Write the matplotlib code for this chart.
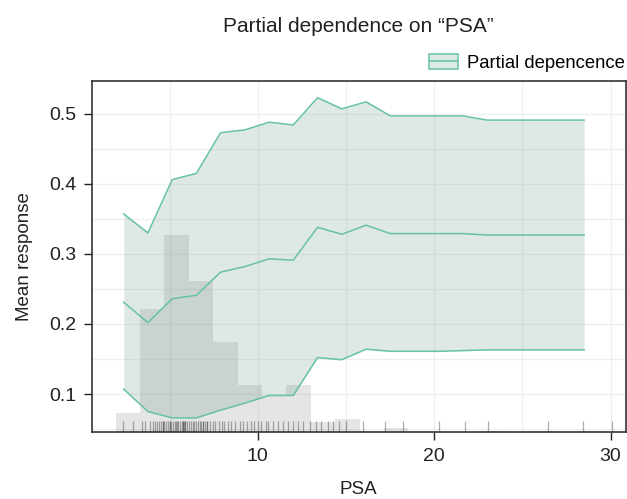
import matplotlib
matplotlib.use("Agg")
import matplotlib.pyplot as plt
from matplotlib.patches import Patch
from matplotlib.lines import Line2D

plt.rcParams['font.family'] = ['Liberation Sans', 'DejaVu Sans']

# partial dependence grid on PSA
pd_x = [2.4, 3.77, 5.15, 6.52, 7.89, 9.27, 10.64, 12.01, 13.39, 14.76,
        16.14, 17.51, 18.88, 20.26, 21.63, 23.0, 24.38, 25.75, 27.12, 28.5]
pd_upper = [0.357, 0.330, 0.406, 0.415, 0.473, 0.477, 0.488, 0.484, 0.523, 0.507,
            0.517, 0.497, 0.497, 0.497, 0.497, 0.491, 0.491, 0.491, 0.491, 0.491]
pd_mean = [0.231, 0.202, 0.236, 0.241, 0.274, 0.282, 0.293, 0.291, 0.338, 0.328,
           0.341, 0.329, 0.329, 0.329, 0.329, 0.327, 0.327, 0.327, 0.327, 0.327]
pd_lower = [0.107, 0.075, 0.066, 0.066, 0.077, 0.087, 0.098, 0.098, 0.152, 0.149,
            0.164, 0.161, 0.161, 0.161, 0.162, 0.163, 0.163, 0.163, 0.163, 0.163]

# histogram of PSA (bar tops in response units)
hist_left = [1.95, 3.33, 4.71, 6.10, 7.48, 8.86, 10.24, 11.62, 13.01, 14.39,
             15.77, 17.15, 18.53, 19.92, 21.30, 22.68, 24.06, 25.44, 26.83, 28.21]
hist_top = [0.073, 0.221, 0.327, 0.261, 0.174, 0.113, 0.097, 0.113, 0.060, 0.064,
            0.047, 0.052, 0.047, 0.0453, 0.0453, 0.047, 0.0453, 0.047, 0.0453, 0.047]
bin_w = 1.38

# rug of observed PSA values
rug = [2.37, 2.93, 3.41, 3.6, 3.88, 4.06, 4.2, 4.3, 4.4, 4.5, 4.6, 4.65, 4.7, 4.8,
       4.9, 5.0, 5.05, 5.1, 5.2, 5.3, 5.35, 5.4, 5.5, 5.58, 5.7, 5.75, 5.75, 5.8,
       5.9, 5.9, 6.0, 6.1, 6.2, 6.3, 6.4, 6.5, 6.6, 6.7, 6.8, 6.9, 6.9, 7.0, 7.1,
       7.1, 7.3, 7.45, 7.6, 7.8, 7.95, 8.1, 8.3, 8.5, 8.7, 8.98, 9.15, 9.4, 9.6,
       9.8, 10.0, 10.2, 10.45, 10.6, 10.87, 11.15, 11.43, 11.72, 12.0, 12.28,
       12.57, 12.94, 13.32, 13.6, 13.97, 14.26, 14.63, 15.01, 15.97, 17.2, 18.23,
       20.3, 21.73, 23.05, 26.45, 28.43, 30.1]

green = '#66c2a5'
ymin, ymax = 0.0453, 0.547

fig = plt.figure(figsize=(6.27, 4.99), dpi=100)
ax = fig.add_axes([0.1467, 0.1335, 0.851, 0.7045])

ax.set_xticks([5, 15, 25], minor=True)
ax.set_yticks([0.05, 0.15, 0.25, 0.35, 0.45], minor=True)
ax.grid(True, which='both', color='#efefef', lw=0.9, zorder=0)
ax.set_axisbelow(True)

ax.fill_between(pd_x, pd_lower, pd_upper, color='#7bab8f', alpha=0.25, lw=0, zorder=1)
ax.bar(hist_left, [t - ymin for t in hist_top], width=bin_w, bottom=ymin, align='edge',
       color='#808080', alpha=0.2, lw=0, zorder=2)
ax.vlines(rug, 0, 0.032, transform=ax.get_xaxis_transform(), color='#333333',
          alpha=0.4, lw=0.9, zorder=3)
for s in (pd_upper, pd_mean, pd_lower):
    ax.plot(pd_x, s, color=green, lw=1.1, zorder=4)

ax.set_xlim(0.6, 30.85)
ax.set_ylim(ymin, ymax)
ax.set_xticks([10, 20, 30])
ax.set_yticks([0.1, 0.2, 0.3, 0.4, 0.5])
ax.set_yticklabels(['0.1', '0.2', '0.3', '0.4', '0.5'])
ax.tick_params(which='major', length=6, width=1, color='#222222', labelsize=14,
               labelcolor='#222222', pad=5.5)
ax.tick_params(which='minor', length=0)
for sp in ax.spines.values():
    sp.set_color('#333333')
    sp.set_linewidth(1.2)

ax.set_xlabel('PSA', fontsize=13.5, color='#222222', labelpad=11)
ax.set_ylabel('Mean response', fontsize=13.5, color='#222222', labelpad=11)

fig.text(0.571, 0.946, 'Partial dependence on \u201cPSA\u201d', ha='center', va='center',
         fontsize=15, color='#222222')

fig.legend([(Patch(facecolor='#dde9e3', edgecolor=green, lw=1.1),
             Line2D([], [], color=green, lw=1.1))],
           ['Partial depencence'], loc='center right', bbox_to_anchor=(1.0, 0.874),
           frameon=False, fontsize=13.3, handlelength=1.55, handleheight=0.9,
           handletextpad=0.5, borderaxespad=0, borderpad=0.1)

fig.savefig('out.png', dpi=100)
